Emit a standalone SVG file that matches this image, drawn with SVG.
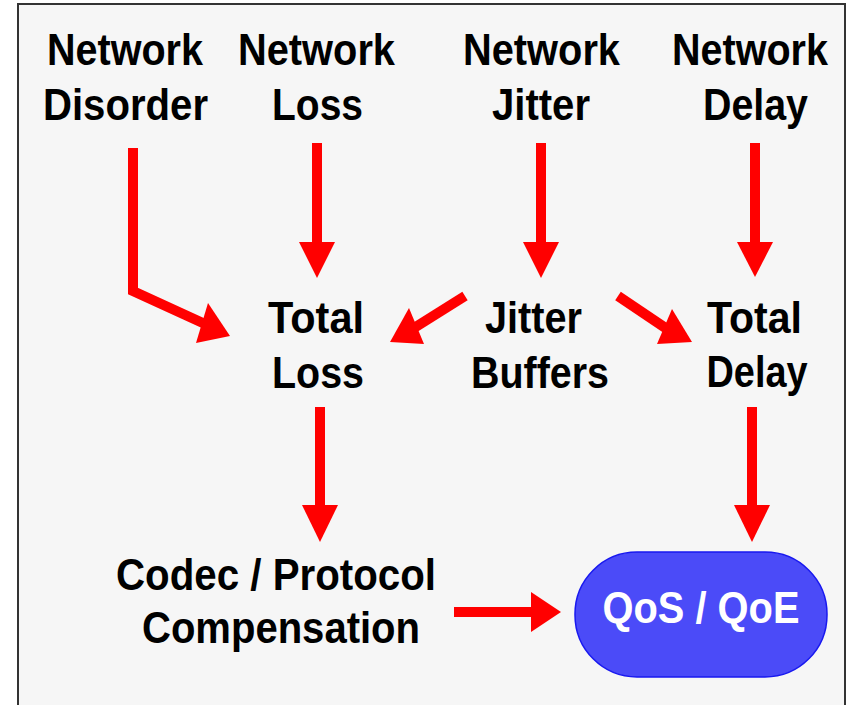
<svg xmlns="http://www.w3.org/2000/svg" width="850" height="705" viewBox="0 0 850 705">
<style>
.t{font-family:"Liberation Sans",Arial,sans-serif;font-weight:bold;font-size:44px;fill:#000;text-anchor:middle}
.w{fill:#fff}
.sh{stroke:#ff0000;stroke-width:10;fill:none;stroke-linejoin:miter}
.hd{fill:#ff0000}
</style>
<rect x="18" y="4" width="827" height="720" fill="#f6f6f6" stroke="#333" stroke-width="2"/>
<g id="n_disorder"><text class="t" x="125" y="65" textLength="156" lengthAdjust="spacingAndGlyphs">Network</text><text class="t" x="125.5" y="120" textLength="165" lengthAdjust="spacingAndGlyphs">Disorder</text></g>
<g id="n_loss"><text class="t" x="316.5" y="65" textLength="157" lengthAdjust="spacingAndGlyphs">Network</text><text class="t" x="317.5" y="120" textLength="91" lengthAdjust="spacingAndGlyphs">Loss</text></g>
<g id="n_jitter"><text class="t" x="541.5" y="65" textLength="157" lengthAdjust="spacingAndGlyphs">Network</text><text class="t" x="541" y="120" textLength="98" lengthAdjust="spacingAndGlyphs">Jitter</text></g>
<g id="n_delay"><text class="t" x="750" y="65" textLength="156" lengthAdjust="spacingAndGlyphs">Network</text><text class="t" x="755.5" y="120" textLength="105" lengthAdjust="spacingAndGlyphs">Delay</text></g>
<g id="total_loss"><text class="t" x="316" y="333" textLength="96" lengthAdjust="spacingAndGlyphs">Total</text><text class="t" x="318" y="388" textLength="92" lengthAdjust="spacingAndGlyphs">Loss</text></g>
<g id="jitter_buffers"><text class="t" x="533.5" y="333" textLength="97" lengthAdjust="spacingAndGlyphs">Jitter</text><text class="t" x="540" y="388" textLength="138" lengthAdjust="spacingAndGlyphs">Buffers</text></g>
<g id="total_delay"><text class="t" x="754.5" y="333" textLength="95" lengthAdjust="spacingAndGlyphs">Total</text><text class="t" x="757" y="387" textLength="101" lengthAdjust="spacingAndGlyphs">Delay</text></g>
<g id="codec"><text class="t" x="276" y="590" textLength="320" lengthAdjust="spacingAndGlyphs">Codec / Protocol</text><text class="t" x="281" y="643" textLength="278" lengthAdjust="spacingAndGlyphs">Compensation</text></g>
<g id="qos"><rect x="575" y="552" width="252" height="125" rx="62" ry="62" fill="#4b4bf8" stroke="#1818f0" stroke-width="1.5"/><text class="t w" x="701" y="623" textLength="197" lengthAdjust="spacingAndGlyphs">QoS / QoE</text></g>
<g id="connectors">
<polyline class="sh" points="133,148 133,291 205,324" stroke-width="9"/>
<polygon class="hd" points="208,303 230,336 196,343"/>
<line class="sh" x1="317" y1="143" x2="317" y2="243"/>
<polygon class="hd" points="299,242 335,242 317,278"/>
<line class="sh" x1="541" y1="143" x2="541" y2="243"/>
<polygon class="hd" points="523,242 559,242 541,278"/>
<line class="sh" x1="755" y1="143" x2="755" y2="243"/>
<polygon class="hd" points="737,242 773,242 755,277"/>
<line class="sh" x1="465" y1="296" x2="414" y2="328" stroke-width="9"/>
<polygon class="hd" points="409,308 424,344 390,342"/>
<line class="sh" x1="618" y1="296" x2="667" y2="329" stroke-width="9"/>
<polygon class="hd" points="672,309 692,342 657,344"/>
<line class="sh" x1="320" y1="407" x2="320" y2="506"/>
<polygon class="hd" points="302,505 338,505 320,542"/>
<line class="sh" x1="752" y1="407" x2="752" y2="506"/>
<polygon class="hd" points="734,505 770,505 752,542"/>
<line class="sh" x1="454" y1="612" x2="532" y2="612" stroke-width="12"/>
<polygon class="hd" points="531,592 561,612 531,632"/>
</g>
</svg>
